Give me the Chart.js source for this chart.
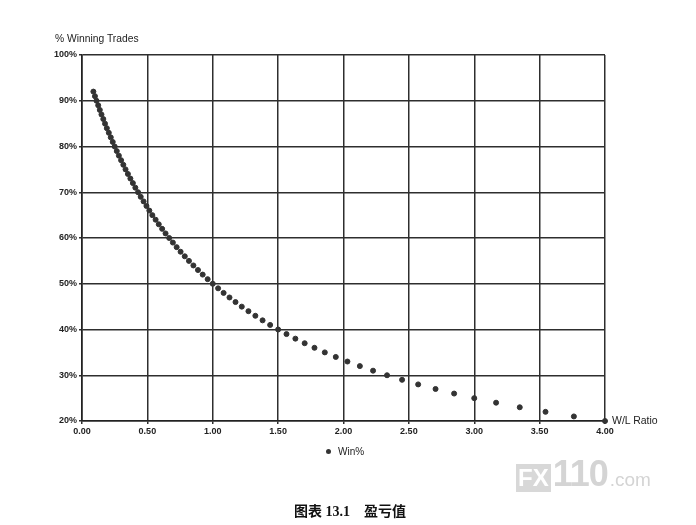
<!DOCTYPE html>
<html>
<head>
<meta charset="utf-8">
<script src="https://cdn.jsdelivr.net/npm/chart.js@4/dist/chart.umd.min.js"></script>
<style>
  html, body { margin: 0; padding: 0; background: #fff; }
  #wrap { position: relative; width: 696px; height: 525px; overflow: hidden; }
  #chart { position: absolute; left: 0; top: 0; }
  .lbl { position: absolute; font-family: "Liberation Sans", Arial, sans-serif; color: #222; white-space: nowrap; }
  #ytitle { left: 55px; top: 33px; font-size: 10.3px; }
  #xtitle { left: 612px; top: 414px; font-size: 10.5px; }
  #legend { left: 326px; top: 446px; font-size: 10px; }
  #legend span { display: inline-block; width: 5px; height: 5px; border-radius: 50%; background: #333; margin-right: 7px; vertical-align: 1px; }
  #caption { left: 0; width: 700px; top: 500px; text-align: center; font-size: 14px; font-weight: bold; color: #111; font-family: "Liberation Serif", "Noto Sans CJK SC", serif; }
  #caption .cjk { font-family: "Noto Sans CJK SC", sans-serif; }
  #mark { left: 516px; top: 460px; color: #d4d4d4; font-family: "Liberation Sans", Arial, sans-serif; font-weight: bold; }
  #mark .fx { display: inline-block; background: #d8d8d8; color: #fff; font-size: 24px; padding: 0 2px; line-height: 28px; margin-right: 2px; }
  #mark .num { font-size: 36px; line-height: 28px; letter-spacing: -1px; }
  #mark .com { font-size: 19px; font-weight: normal; margin-left: 2px; }
</style>
</head>
<body>
<div id="wrap">
  <canvas id="chart" width="696" height="525"></canvas>
  <div class="lbl" id="ytitle">% Winning Trades</div>
  <div class="lbl" id="xtitle">W/L Ratio</div>
  <div class="lbl" id="legend"><span></span>Win%</div>
  <div class="lbl" id="mark"><span class="fx">FX</span><span class="num">110</span><span class="com">.com</span></div>
  <div class="lbl" id="caption"><span class="cjk">图表</span> 13.1&nbsp;&nbsp;&nbsp;&nbsp;<span class="cjk">盈亏值</span></div>
</div>
<script>
// W/L ratio needed for each winning percentage
const winPct = [92, 91, 90, 89, 88, 87, 86, 85, 84, 83, 82, 81, 80, 79, 78, 77, 76, 75, 74, 73,
  72, 71, 70, 69, 68, 67, 66, 65, 64, 63, 62, 61, 60, 59, 58, 57, 56, 55, 54, 53,
  52, 51, 50, 49, 48, 47, 46, 45, 44, 43, 42, 41, 40, 39, 38, 37, 36, 35, 34, 33,
  32, 31, 30, 29, 28, 27, 26, 25, 24, 23, 22, 21, 20];
const wlRatio = [0.087, 0.099, 0.111, 0.124, 0.136, 0.149, 0.163, 0.176, 0.190, 0.205,
  0.220, 0.235, 0.250, 0.266, 0.282, 0.299, 0.316, 0.333, 0.351, 0.370,
  0.389, 0.408, 0.429, 0.449, 0.471, 0.493, 0.515, 0.538, 0.563, 0.587,
  0.613, 0.639, 0.667, 0.695, 0.724, 0.754, 0.786, 0.818, 0.852, 0.887,
  0.923, 0.961, 1.000, 1.041, 1.083, 1.128, 1.174, 1.222, 1.273, 1.326,
  1.381, 1.439, 1.500, 1.564, 1.632, 1.703, 1.778, 1.857, 1.941, 2.030,
  2.125, 2.226, 2.333, 2.448, 2.571, 2.704, 2.846, 3.000, 3.167, 3.348,
  3.545, 3.762, 4.000];
const seriesName = 'Win%';

const points = wlRatio.map((r, i) => ({ x: r, y: winPct[i] }));
const tickFont = { family: '"Liberation Sans", Arial, sans-serif', size: 9, weight: 'bold' };

new Chart(document.getElementById('chart'), {
  type: 'scatter',
  data: {
    datasets: [{
      label: seriesName,
      data: points,
      backgroundColor: '#333',
      borderColor: '#333',
      pointRadius: 2.5,
      pointHoverRadius: 2.5,
      clip: false,
    }],
  },
  options: {
    responsive: false,
    animation: false,
    layout: { padding: { left: 0, right: 91, top: 55, bottom: 84 } },
    plugins: { legend: { display: false }, tooltip: { enabled: false } },
    scales: {
      x: {
        type: 'linear', min: 0, max: 4,
        ticks: { stepSize: 0.5, callback: v => v.toFixed(2), color: '#222', font: tickFont, padding: 2, maxRotation: 0 },
        grid: { color: '#2e2e2e', lineWidth: 1.5, tickLength: 3 },
        border: { color: '#222', width: 1.6 },
        afterFit: s => { s.height = 20; },
      },
      y: {
        min: 20, max: 100,
        ticks: { stepSize: 10, callback: v => v + '%', color: '#222', font: tickFont, padding: 2 },
        grid: { color: '#2e2e2e', lineWidth: 1.5, tickLength: 3 },
        border: { color: '#222', width: 1.6 },
        afterFit: s => { s.width = 82; },
      },
    },
  },
});
</script>
</body>
</html>
